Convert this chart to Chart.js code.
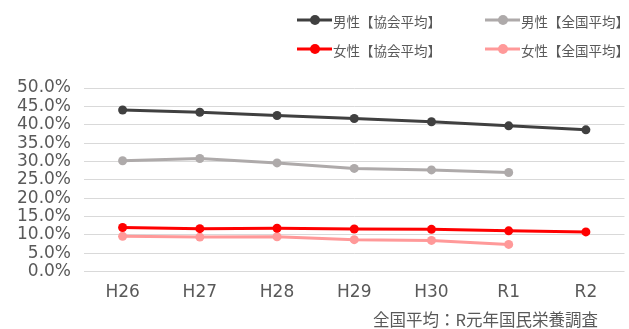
<!DOCTYPE html>
<html>
<head>
<meta charset="utf-8">
<script src="https://cdn.jsdelivr.net/npm/chart.js@4.4.1/dist/chart.umd.min.js"></script>
<style>
  html, body { margin: 0; padding: 0; background: #fff; }
  #wrap { width: 629px; height: 329px; }
</style>
</head>
<body>
<div id="wrap"><canvas id="chart" width="629" height="329"></canvas></div>
<script>
const categories = ['H26', 'H27', 'H28', 'H29', 'H30', 'R1', 'R2'];
const maleKyokai = [44.0, 43.4, 42.5, 41.7, 40.8, 39.7, 38.6];
const maleNational = [30.2, 30.8, 29.6, 28.1, 27.7, 27.0, null];
const femaleKyokai = [12.0, 11.7, 11.8, 11.6, 11.5, 11.1, 10.8];
const femaleNational = [9.6, 9.4, 9.5, 8.7, 8.5, 7.4, null];
const seriesNames = ['男性【協会平均】', '男性【全国平均】', '女性【協会平均】', '女性【全国平均】'];
const sourceNote = '全国平均：R元年国民栄養調査';

const textColor = '#595959';
const latinFont = "'DejaVu Sans', 'Noto Sans CJK JP', sans-serif";
const cjkFont = "'Noto Sans CJK JP', sans-serif";

function makeSet(label, data, color) {
    return {
        label: label,
        data: data,
        borderColor: color,
        backgroundColor: color,
        borderWidth: 3,
        pointRadius: 4.5,
        pointHoverRadius: 4.5,
        pointBorderWidth: 0,
        tension: 0,
        spanGaps: false
    };
}

// legend in 2 columns + source note at the bottom
const legendAndNote = {
    id: 'legendAndNote',
    afterDraw(chart) {
        const ctx = chart.ctx;
        const cols = [297, 485];
        const rows = [20, 49];
        ctx.save();
        chart.data.datasets.forEach((ds, i) => {
            const x = cols[i % 2];
            const y = rows[Math.floor(i / 2)];
            ctx.strokeStyle = ds.borderColor;
            ctx.lineWidth = 3;
            ctx.beginPath();
            ctx.moveTo(x, y);
            ctx.lineTo(x + 35, y);
            ctx.stroke();
            ctx.fillStyle = ds.borderColor;
            ctx.beginPath();
            ctx.arc(x + 18, y, 5, 0, Math.PI * 2);
            ctx.fill();
            ctx.fillStyle = textColor;
            ctx.font = '13.5px ' + cjkFont;
            ctx.textAlign = 'left';
            ctx.textBaseline = 'middle';
            ctx.fillText(ds.label, x + 36, y + 2);
        });
        ctx.font = '16.5px ' + cjkFont;
        ctx.textAlign = 'right';
        ctx.textBaseline = 'middle';
        ctx.fillStyle = textColor;
        ctx.fillText(sourceNote, 598, 320);
        ctx.restore();
    }
};

const chart = new Chart(document.getElementById('chart').getContext('2d'), {
    type: 'line',
    data: {
        labels: categories,
        datasets: [
            makeSet(seriesNames[0], maleKyokai, '#404040'),
            makeSet(seriesNames[1], maleNational, '#AEAAAA'),
            makeSet(seriesNames[2], femaleKyokai, '#FF0000'),
            makeSet(seriesNames[3], femaleNational, '#FF9999')
        ]
    },
    options: {
        responsive: false,
        animation: false,
        layout: {
            padding: { top: 88, left: 4, right: 0, bottom: 15 }
        },
        plugins: {
            legend: { display: false },
            tooltip: { enabled: false }
        },
        scales: {
            x: {
                offset: true,
                grid: { display: false, drawTicks: false },
                border: { display: false },
                ticks: {
                    color: textColor,
                    font: { family: latinFont, size: 17 },
                    padding: 11
                }
            },
            y: {
                min: 0,
                max: 50,
                grid: { color: '#D9D9D9', lineWidth: 1, drawTicks: false },
                border: { display: false },
                ticks: {
                    stepSize: 5,
                    autoSkip: false,
                    color: textColor,
                    font: { family: latinFont, size: 17 },
                    padding: 13,
                    callback: v => v.toFixed(1) + '%'
                }
            }
        }
    },
    plugins: [legendAndNote]
});
</script>
</body>
</html>
